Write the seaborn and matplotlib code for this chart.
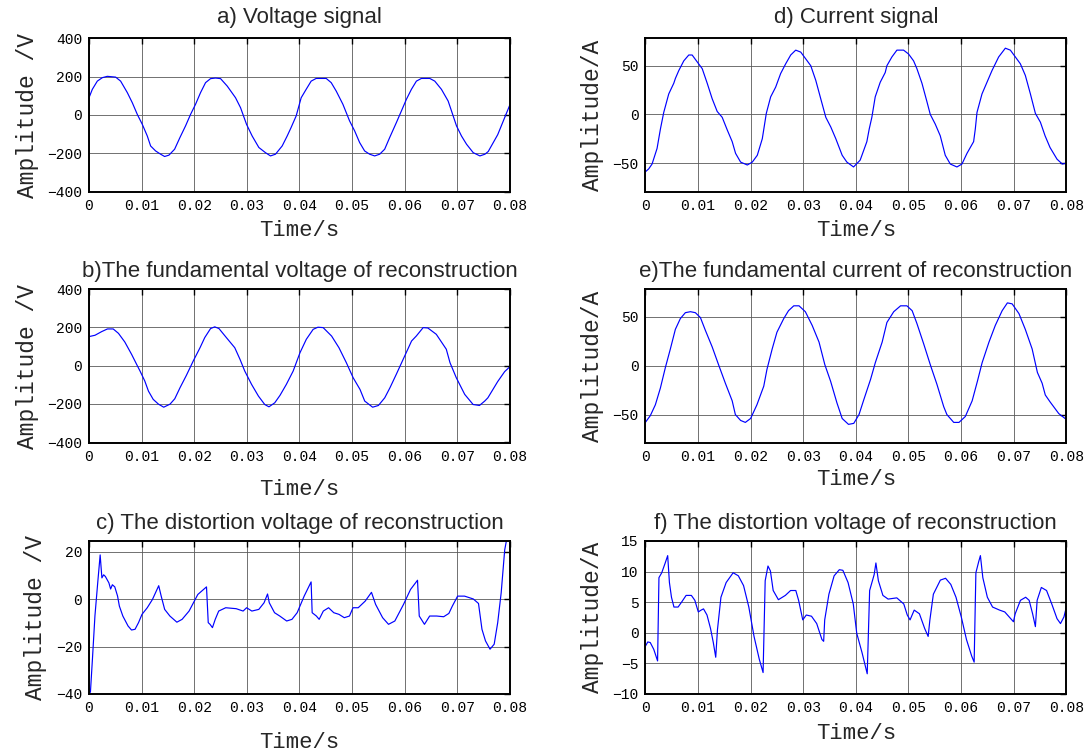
import numpy as np
import matplotlib
matplotlib.use("Agg")
import matplotlib.pyplot as plt
import seaborn as sns

sns.set_style("white")
plt.rcParams['font.family'] = ['Liberation Mono', 'DejaVu Sans']
plt.rcParams['axes.unicode_minus'] = True

# x axis ticks (seconds)
x_ticks = [0, 0.01, 0.02, 0.03, 0.04, 0.05, 0.06, 0.07, 0.08]
x_tick_labels = ["0", "0.01", "0.02", "0.03", "0.04", "0.05", "0.06", "0.07", "0.08"]

# ---- a) voltage signal (time in ms, value in V) ----
a_t = [0, 0.63, 1.58, 2.53, 3.48, 5.06, 6.01, 7.28, 8.23, 9.18,
       10.13, 11.08, 11.71, 12.66, 13.61, 14.37, 15.19, 16.27, 17.28, 18.35,
       19.30, 20.25, 21.2, 22.15, 23.1, 24.05, 25.0, 26.27, 27.85, 28.8,
       29.94, 31.01, 32.28, 33.54, 34.49, 35.44, 36.71, 37.66, 38.4, 39.37,
       40.32, 41.27, 42.22, 43.17, 45.08, 46.03, 46.98, 48.25, 49.52, 50.48,
       51.43, 52.38, 53.33, 54.29, 55.24, 56.19, 57.14, 58.41, 59.37, 60.32,
       61.27, 62.22, 63.17, 64.76, 65.71, 66.98, 68.25, 68.89, 69.84, 70.79,
       71.75, 73.02, 74.29, 75.24, 75.87, 77.67, 80.0]
a_v = [90, 134, 177, 195, 202, 198, 177, 117, 64, 3,
       -49, -110, -162, -188, -205, -217, -210, -179, -118, -57,
       3, 56, 117, 169, 190, 193, 190, 151, 90, 38,
       -49, -110, -170, -197, -214, -205, -162, -110, -66, -5,
       90, 134, 177, 191, 191, 169, 125, 56, -31, -83,
       -144, -188, -205, -214, -205, -179, -118, -40, 21, 82,
       134, 177, 191, 191, 177, 134, 73, 21, -57, -110,
       -153, -197, -214, -205, -191, -103, 54]

# ---- b) fundamental voltage ----
b_t = [0, 1.14, 2.4, 3.5, 4.6, 5.6, 6.8, 8.1, 9.05, 9.7,
       10.6, 11.3, 12.2, 13.2, 14.2, 15.4, 16.3, 17.3, 18.5, 19.8,
       21.1, 22.0, 23.1, 23.9, 24.7, 26.1, 27.7, 28.7, 29.6, 30.9,
       32.2, 33.4, 34.2, 35.3, 36.3, 37.5, 38.8, 40.1, 41.3, 42.6,
       43.5, 44.5, 46.1, 47.5, 48.9, 50.2, 51.5, 52.4, 53.9, 55.0,
       56.2, 57.2, 58.4, 59.7, 61.3, 62.2, 63.5, 64.4, 66.0, 67.9,
       68.6, 69.8, 71.4, 73.0, 74.2, 75.2, 75.8, 77.67, 78.99, 80.0]
b_v = [152, 159, 178, 192, 192, 169, 124, 59, 7, -28,
       -80, -133, -176, -201, -217, -201, -173, -115, -51, 24,
       94, 147, 194, 203, 194, 147, 94, 33, -28, -98,
       -159, -203, -215, -194, -155, -98, -28, 68, 138, 190,
       201, 199, 155, 94, 16, -63, -124, -185, -217, -208,
       -168, -115, -45, 33, 129, 155, 199, 197, 164, 86,
       16, -63, -150, -203, -208, -185, -168, -83, -31, -5]

# ---- c) distortion voltage ----
c_t = [0.27, 0.66, 1.13, 1.66, 2.12, 2.45, 2.78, 3.11, 3.78, 4.11, 4.44, 4.90, 5.43, 5.77, 6.43,
       7.42, 8.08, 8.75, 9.41, 10.07, 11.07, 12.06, 13.25, 13.72, 14.38, 15.37, 16.70, 17.69,
       19.02, 20.68, 22.33, 22.66, 23.0, 23.46, 23.99, 24.65, 25.98, 27.97, 29.29, 29.95, 30.95,
       32.27, 33.27, 33.93, 34.26, 35.26, 36.25, 37.57, 38.57, 39.56, 40.89, 42.21, 42.41, 43.21,
       43.74, 44.53, 45.53, 46.52, 47.51, 48.51, 49.50, 50.17, 51.16, 52.49, 53.68, 54.47, 55.80,
       56.92, 58.12, 59.77, 61.10, 62.43, 62.76, 63.75, 64.74, 66.07, 67.40, 68.39, 69.05, 70.05,
       71.37, 73.03, 74.02, 74.68, 75.35, 76.21, 77.0, 77.67, 78.33, 79.0, 79.32, 80.0]
c_v = [-39.3, -25, -7, 7, 18.7, 9, 10.3, 9.6, 6.9, 4.3, 6.1, 5.2, 1.3, -2.9, -7.1,
       -11.3, -13, -12.7, -9.9, -6.4, -3.6, -0.1, 5.7, 1.3, -4.3, -7.1, -9.7, -8.5,
       -5, 2, 5.2, -9.9, -10.6, -12, -8.5, -5, -3.6, -4, -5, -3.6, -5,
       -4.3, -1.5, 2.2, -1.5, -5.7, -7.1, -9.2, -8.5, -5.7, 1.3, 7.3, -5.7, -7.1,
       -8.5, -5, -3.6, -5.7, -6.4, -7.8, -7.1, -3.6, -3.6, -0.8, 2.9, -2.2, -7.8,
       -10.6, -9.2, -2.2, 4.1, 8, -7.1, -10.6, -7.1, -7.1, -7.4, -6, -2.9, 1.3,
       1.3, 0.1, -1.8, -12.7, -17.6, -21.1, -19, -9.9, 2.7, 20.8, 24.6, 33]

# ---- d) current signal ----
d_t = [0, 0.63, 1.27, 2.22, 2.54, 2.86, 3.49, 4.44, 5.4, 5.71,
       6.35, 7.3, 8.25, 8.89, 9.84, 10.8, 11.75, 12.7, 13.65, 14.6,
       15.56, 16.5, 17.14, 18.1, 19.37, 20.32, 21.27, 22.22, 22.98, 23.81,
       24.76, 25.71, 26.67, 27.62, 28.57, 29.52, 30.48, 31.43, 32.38, 33.33,
       34.29, 35.24, 36.19, 37.4, 38.29, 39.56, 40.82, 42.09, 42.54, 43.04,
       43.68, 44.63, 45.58, 45.9, 46.85, 47.8, 49.07, 50.02, 50.97, 51.6,
       52.56, 53.51, 54.14, 55.09, 56.04, 56.99, 57.95, 59.21, 60.16, 61.12,
       62.38, 62.7, 63.02, 63.97, 64.92, 65.87, 67.14, 68.41, 69.36, 70.31,
       71.26, 72.21, 73.17, 74.12, 75.07, 75.96, 76.9, 78.23, 79.23, 80.0]
d_v = [-59, -56, -51, -35, -25, -15, 2, 21, 32, 37,
       45, 55, 61, 61, 54, 47, 32, 16, 3, -3,
       -16, -28, -40, -49, -52, -49, -42, -25, 1, 18,
       28, 42, 52, 61, 66, 64, 57, 50, 35, 16,
       -3, -13, -25, -42, -49, -54, -47, -28, -15, -3,
       18, 33, 43, 50, 59, 66, 66, 62, 55, 47,
       32, 13, 0, -10, -22, -42, -51, -54, -51, -40,
       -28, -15, 2, 21, 33, 45, 59, 68, 66, 59,
       52, 40, 21, 1, -8, -22, -34, -46, -51, -50]

# ---- e) fundamental current ----
e_t = [0, 0.95, 1.9, 2.85, 3.8, 4.75, 5.7, 6.65, 7.6, 8.56,
       9.5, 10.46, 11.4, 12.7, 13.9, 15.2, 16.5, 17.1, 18.1, 19.0,
       20.0, 21.2, 22.5, 23.1, 24.1, 25.0, 26.3, 27.2, 28.2, 29.2,
       30.4, 31.7, 33.0, 34.1, 35.2, 36.4, 37.4, 38.6, 39.6, 40.6,
       41.5, 42.8, 43.7, 45.0, 45.9, 47.2, 48.5, 49.7, 50.7, 51.6,
       52.9, 54.2, 55.4, 56.7, 57.3, 58.6, 59.6, 60.8, 62.1, 63.1,
       64.0, 65.3, 66.5, 67.8, 68.8, 69.7, 71.0, 72.2, 73.5, 74.5,
       75.4, 76.0, 76.9, 78.56, 80.0]
e_v = [-58, -51, -40, -23, -2, 17, 37, 48, 54, 55,
       54, 49, 36, 19, 1, -18, -36, -50, -56, -58,
       -54, -40, -21, -4, 17, 34, 48, 56, 61, 61,
       55, 41, 24, 1, -16, -38, -54, -60, -59, -50,
       -35, -14, 3, 24, 44, 55, 61, 61, 56, 43,
       22, 0, -19, -42, -50, -58, -58, -52, -36, -16,
       3, 24, 41, 56, 64, 63, 53, 37, 17, -7,
       -18, -30, -37, -49, -55]

# ---- f) distortion (current) ----
f_t = [0, 0.46, 0.93, 1.59, 2.32, 2.58, 3.11, 3.77, 4.24, 4.57, 4.96, 5.43, 6.22, 6.88, 7.74,
       8.74, 9.40, 10.06, 10.59, 11.05, 11.71, 12.38, 12.91, 13.37, 13.70, 14.36, 15.35, 16.68,
       17.67, 18.66, 19.66, 20.65, 21.64, 22.37, 22.77, 23.30, 23.76, 24.29, 25.28, 26.60, 27.60,
       28.59, 29.12, 29.91, 30.58, 31.57, 32.56, 33.55, 33.88, 34.08, 34.88, 35.87, 36.86, 37.53,
       38.52, 39.51, 40.17, 41.16, 42.16, 42.62, 43.48, 43.81, 44.28, 45.14, 46.13, 47.78, 49.11,
       49.77, 50.30, 51.09, 52.08, 53.08, 53.74, 54.07, 54.73, 56.06, 57.05, 58.04, 59.03, 60.03,
       61.02, 62.01, 62.48, 62.81, 63.34, 63.67, 64.13, 64.99, 65.98, 67.31, 68.30, 69.95, 70.28,
       71.28, 72.27, 72.93, 73.59, 74.12, 74.45, 75.25, 76.24, 77.23, 78.23, 78.89, 79.55, 80.0]
f_v = [-2.2, -1.5, -1.6, -2.7, -4.6, 9, 9.8, 11.4, 12.6, 8.2, 5.8, 4.2, 4.2, 5, 6.1,
       6.1, 5.3, 3.4, 3.7, 3.9, 2.9, 0.7, -1.6, -4.0, 0.5, 5.8, 8.2, 9.8,
       9.3, 7.7, 4.2, -0.6, -4.3, -6.5, 8.5, 10.9, 10.1, 6.9, 5.4, 6.1, 6.9,
       6.9, 5.3, 2.1, 2.9, 2.7, 1.5, -1.1, -1.4, 2.1, 6.3, 9.3, 10.3, 10.2,
       8.2, 4.7, -0.1, -3.2, -6.7, 6.9, 9.5, 11.4, 8.5, 6.1, 5.5, 5.7, 4.7,
       2.9, 2.1, 3.7, 3.1, 0.7, -0.6, 2.1, 6.3, 8.6, 8.9, 7.9, 5.8, 2.6,
       -1.1, -3.8, -4.8, 9.8, 11.6, 12.6, 9, 5.8, 4.2, 3.7, 3.4, 1.8, 3.1,
       5.3, 5.8, 5.3, 3.1, 1.0, 5.3, 7.4, 6.9, 4.7, 2.3, 1.5, 2.6, 4.2]

LX, RX, W = 0.0815, 0.591, 0.3855

panels = [
    # title, t, v, ylim, yticks, ylabel, axes rect, xlabel pad, title pad
    ("a) Voltage signal", a_t, a_v, (-404, 400), [-400, -200, 0, 200, 400], "Amplitude /V",
     [LX, 0.745, W, 0.204], 5, 11),
    ("b)The fundamental voltage of reconstruction", b_t, b_v, (-404, 400),
     [-400, -200, 0, 200, 400], "Amplitude /V", [LX, 0.4125, W, 0.204], 11, 9),
    ("c) The distortion voltage of reconstruction", c_t, c_v, (-40, 24.6), [-40, -20, 0, 20],
     "Amplitude /V", [LX, 0.0796, W, 0.203], 12, 8.5),
    ("d) Current signal", d_t, d_v, (-80, 78), [-50, 0, 50], "Amplitude/A",
     [RX, 0.745, W, 0.204], 5, 11),
    ("e)The fundamental current of reconstruction", e_t, e_v, (-79, 78), [-50, 0, 50],
     "Amplitude/A", [RX, 0.4125, W, 0.204], 4, 8.5),
    ("f) The distortion voltage of reconstruction", f_t, f_v, (-10, 15),
     [-10, -5, 0, 5, 10, 15], "Amplitude/A", [RX, 0.0796, W, 0.203], 6, 8.5),
]

fig = plt.figure(figsize=(10.92, 7.54), dpi=100)

for title, t, v, ylim, yticks, ylabel, rect, xpad, tpad in panels:
    ax = fig.add_axes(rect)
    sns.lineplot(x=np.array(t) / 1000.0, y=v, ax=ax, color="#0000ff", linewidth=0.85,
                 estimator=None, sort=False)
    ax.set_xlim(0, 0.08)
    ax.set_ylim(*ylim)
    ax.set_xticks(x_ticks)
    ax.set_xticklabels(x_tick_labels)
    ax.set_yticks(yticks)
    ax.grid(True, color="0.35", linewidth=0.6)
    ax.tick_params(direction="in", top=True, right=True, length=4, width=1,
                   labelsize=10.5, pad=5, colors="black")
    for s in ax.spines.values():
        s.set_color("black")
        s.set_linewidth(1.4)
    ax.set_title(title, fontsize=16, family=["Liberation Sans", "DejaVu Sans"], pad=tpad)
    ax.set_xlabel("Time/s", fontsize=16, labelpad=xpad)
    ax.set_ylabel(ylabel, fontsize=16.5, labelpad=6)

fig.savefig("out.png", dpi=100)
